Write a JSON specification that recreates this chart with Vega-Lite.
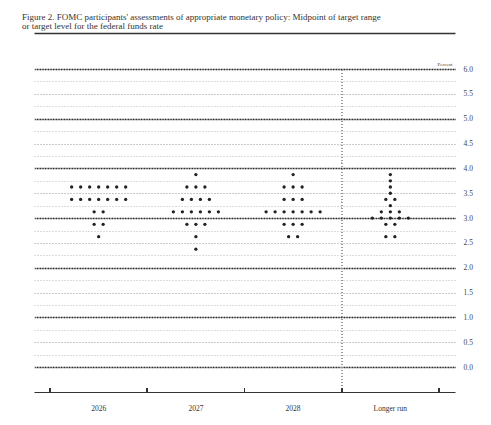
{
  "$schema": "https://vega.github.io/schema/vega-lite/v6.json",
  "width": 421,
  "height": 323,
  "autosize": {"type": "none"},
  "padding": {"left": 34, "top": 69, "right": 36, "bottom": 33},
  "background": "white",
  "title": {
    "text": ["Figure 2. FOMC participants' assessments of appropriate monetary policy: Midpoint of target range", "or target level for the federal funds rate"],
    "anchor": "start",
    "frame": "group",
    "dx": -12,
    "dy": 12,
    "offset": 5,
    "baseline": "bottom",
    "font": "Liberation Serif",
    "fontSize": 9,
    "fontWeight": "normal",
    "lineHeight": 9,
    "color": "#333"
  },
  "config": {
    "view": {"stroke": null},
    "font": "Liberation Serif"
  },
  "resolve": {"axis": {"x": "independent"}},
  "data": {
    "values": [
      {"p": "2026", "r": 3.625}, {"p": "2026", "r": 3.625}, {"p": "2026", "r": 3.625}, {"p": "2026", "r": 3.625}, {"p": "2026", "r": 3.625}, {"p": "2026", "r": 3.625}, {"p": "2026", "r": 3.625},
      {"p": "2026", "r": 3.375}, {"p": "2026", "r": 3.375}, {"p": "2026", "r": 3.375}, {"p": "2026", "r": 3.375}, {"p": "2026", "r": 3.375}, {"p": "2026", "r": 3.375}, {"p": "2026", "r": 3.375},
      {"p": "2026", "r": 3.125}, {"p": "2026", "r": 3.125},
      {"p": "2026", "r": 2.875}, {"p": "2026", "r": 2.875},
      {"p": "2026", "r": 2.625},
      {"p": "2027", "r": 3.875},
      {"p": "2027", "r": 3.625}, {"p": "2027", "r": 3.625}, {"p": "2027", "r": 3.625},
      {"p": "2027", "r": 3.375}, {"p": "2027", "r": 3.375}, {"p": "2027", "r": 3.375}, {"p": "2027", "r": 3.375},
      {"p": "2027", "r": 3.125}, {"p": "2027", "r": 3.125}, {"p": "2027", "r": 3.125}, {"p": "2027", "r": 3.125}, {"p": "2027", "r": 3.125}, {"p": "2027", "r": 3.125},
      {"p": "2027", "r": 2.875}, {"p": "2027", "r": 2.875}, {"p": "2027", "r": 2.875},
      {"p": "2027", "r": 2.625},
      {"p": "2027", "r": 2.375},
      {"p": "2028", "r": 3.875},
      {"p": "2028", "r": 3.625}, {"p": "2028", "r": 3.625}, {"p": "2028", "r": 3.625},
      {"p": "2028", "r": 3.375}, {"p": "2028", "r": 3.375}, {"p": "2028", "r": 3.375},
      {"p": "2028", "r": 3.125}, {"p": "2028", "r": 3.125}, {"p": "2028", "r": 3.125}, {"p": "2028", "r": 3.125}, {"p": "2028", "r": 3.125}, {"p": "2028", "r": 3.125}, {"p": "2028", "r": 3.125},
      {"p": "2028", "r": 2.875}, {"p": "2028", "r": 2.875}, {"p": "2028", "r": 2.875},
      {"p": "2028", "r": 2.625}, {"p": "2028", "r": 2.625},
      {"p": "Longer run", "r": 3.875},
      {"p": "Longer run", "r": 3.75},
      {"p": "Longer run", "r": 3.625},
      {"p": "Longer run", "r": 3.5},
      {"p": "Longer run", "r": 3.375}, {"p": "Longer run", "r": 3.375},
      {"p": "Longer run", "r": 3.25},
      {"p": "Longer run", "r": 3.125}, {"p": "Longer run", "r": 3.125}, {"p": "Longer run", "r": 3.125},
      {"p": "Longer run", "r": 3.0}, {"p": "Longer run", "r": 3.0}, {"p": "Longer run", "r": 3.0}, {"p": "Longer run", "r": 3.0}, {"p": "Longer run", "r": 3.0},
      {"p": "Longer run", "r": 2.875}, {"p": "Longer run", "r": 2.875},
      {"p": "Longer run", "r": 2.625}, {"p": "Longer run", "r": 2.625}
    ]
  },
  "encoding": {
    "y": {
      "type": "quantitative",
      "scale": {"domain": [-0.5, 6], "nice": false, "zero": false},
      "axis": {
        "orient": "right",
        "values": [0, 0.25, 0.5, 0.75, 1, 1.25, 1.5, 1.75, 2, 2.25, 2.5, 2.75, 3, 3.25, 3.5, 3.75, 4, 4.25, 4.5, 4.75, 5, 5.25, 5.5, 5.75, 6],
        "labelExpr": "datum.value % 0.5 === 0 ? format(datum.value, '.1f') : ''",
        "title": "Percent",
        "titleAngle": 0,
        "titleAlign": "right",
        "titleBaseline": "bottom",
        "titleX": -3,
        "titleY": -3,
        "titleFontSize": 5,
        "titleFontWeight": "normal",
        "titleColor": "#444",
        "domain": false,
        "ticks": false,
        "labelPadding": 8,
        "labelFontSize": 7.5,
        "labelColor": "#444",
        "labelFont": "Liberation Serif",
        "grid": true,
        "gridColor": {"condition": {"test": "datum.value % 1 === 0", "value": "#111"}, "value": "#888"},
        "gridOpacity": {"condition": {"test": "datum.value % 0.5 === 0", "value": 1}, "value": 0.65},
        "gridDash": {"condition": {"test": "datum.value % 1 === 0", "value": [1, 0.6]}, "value": [1, 2]},
        "gridWidth": {"condition": {"test": "datum.value % 1 === 0", "value": 1.4}, "value": 0.9}
      }
    }
  },
  "layer": [
    {
      "transform": [
        {"window": [{"op": "row_number", "as": "k"}, {"op": "count", "as": "n"}], "groupby": ["p", "r"], "frame": [null, null]},
        {"calculate": "datum.k - (datum.n + 1) / 2", "as": "off"}
      ],
      "mark": {"type": "circle", "color": "#222", "opacity": 1, "size": 11},
      "encoding": {
        "x": {
          "field": "p",
          "type": "nominal",
          "scale": {"domain": ["2026", "2027", "2028", "Longer run"], "paddingInner": 0, "paddingOuter": 0.165},
          "axis": {
            "orient": "bottom",
            "title": null,
            "labelAngle": 0,
            "ticks": false,
            "domain": true,
            "grid": false,
            "domainColor": "#333",
            "domainWidth": 1,
            "labelPadding": 12,
            "labelFontSize": 7.5,
            "labelColor": "#333",
            "labelFont": "Liberation Serif"
          }
        },
        "y": {"field": "r"},
        "xOffset": {"field": "off", "type": "quantitative", "scale": {"domain": [-5.4, 5.4]}}
      }
    },
    {
      "mark": {"type": "rule", "color": "#999", "strokeDash": [1, 2], "strokeWidth": 1},
      "encoding": {
        "x": {
          "datum": "Longer run",
          "bandPosition": 0,
          "type": "nominal",
          "axis": {
            "orient": "top",
            "offset": 36,
            "title": null,
            "labels": false,
            "ticks": false,
            "grid": false,
            "domain": true,
            "domainColor": "#333",
            "domainWidth": 1.6
          }
        },
        "y": {"datum": -0.5},
        "y2": {"datum": 6}
      }
    },
    {
      "mark": {"type": "rule", "color": "#333", "strokeWidth": 1},
      "encoding": {
        "x": {"field": "p", "type": "nominal", "bandPosition": 0, "axis": null},
        "y": {"datum": -0.5},
        "y2": {"datum": -0.42}
      }
    },
    {
      "mark": {"type": "rule", "color": "#333", "strokeWidth": 1},
      "encoding": {
        "x": {"datum": "Longer run", "bandPosition": 1, "type": "nominal", "axis": null},
        "y": {"datum": -0.5},
        "y2": {"datum": -0.42}
      }
    }
  ]
}
